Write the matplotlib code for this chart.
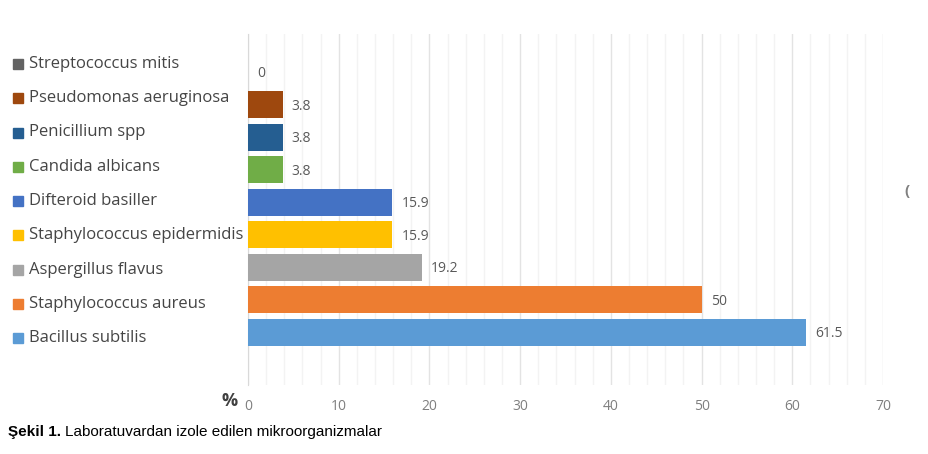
import numpy as np
import matplotlib.pyplot as plt

# bottom to top, like the picture
names = ['Bacillus subtilis', 'Staphylococcus aureus', 'Aspergillus flavus',
         'Staphylococcus epidermidis', 'Difteroid basiller', 'Candida albicans',
         'Penicillium spp', 'Pseudomonas aeruginosa', 'Streptococcus mitis']
values = [61.5, 50, 19.2, 15.9, 15.9, 3.8, 3.8, 3.8, 0]
colors = ['#5B9BD5', '#ED7D31', '#A5A5A5', '#FFC000', '#4472C4',
          '#70AD47', '#255E91', '#9E480E', '#636363']
xticks = [0, 10, 20, 30, 40, 50, 60, 70]

plt.rcParams['font.family'] = ['Open Sans', 'DejaVu Sans']

fig = plt.figure(figsize=(9.29, 4.54), dpi=100)
ax = fig.add_axes([0.267, 0.152, 0.6835, 0.773])

y = np.arange(len(names))
ax.barh(y, values, height=0.83, color=colors, zorder=3)

ax.set_xlim(0, 70)
ax.set_ylim(-1.63, 9.17)
ax.set_xticks(xticks)
ax.set_xticks(np.arange(0, 71, 2), minor=True)
ax.grid(axis='x', which='major', color='#E3E3E3', lw=1, zorder=0)
ax.grid(axis='x', which='minor', color='#F3F3F3', lw=1, zorder=0)
ax.set_yticks([])
for s in ['top', 'right', 'bottom']:
    ax.spines[s].set_visible(False)
ax.spines['left'].set_color('#D9D9D9')
ax.tick_params(axis='x', which='both', length=0, pad=10)
for lab in ax.get_xticklabels():
    lab.set_fontsize(10)
    lab.set_color('#7F7F7F')

# value labels
for yi, v in zip(y, values):
    ax.text(v + 1.0, yi - 0.05, f'{v:g}', va='center', ha='left',
            fontsize=10, color='#595959', zorder=4)

# legend on the left (own row spacing, top row first)
top, step = 1 - 64 / 454, 34.25 / 454
for i, (n, c) in enumerate(zip(names[::-1], colors[::-1])):
    yy = top - i * step
    fig.lines.append(plt.Line2D([0.0194], [yy], marker='s', ms=7.5, color=c,
                                transform=fig.transFigure))
    fig.text(0.031, yy, n, va='center', ha='left', fontsize=12, color='#454545')

fig.text(0.238, 0.116, '%', fontsize=13, fontweight='bold', color='#404040',
         ha='left', va='center')
fig.text(0.973, 0.58, '(', fontsize=11, fontweight='bold', color='#808080',
         ha='left', va='center')

fig.text(0.009, 0.049, 'Şekil 1.', fontsize=11, fontweight='bold',
         family='Liberation Sans', ha='left', va='center')
fig.text(0.0705, 0.049, 'Laboratuvardan izole edilen mikroorganizmalar',
         fontsize=11, family='Liberation Sans', ha='left', va='center')

fig.savefig('out.png', dpi=100)
